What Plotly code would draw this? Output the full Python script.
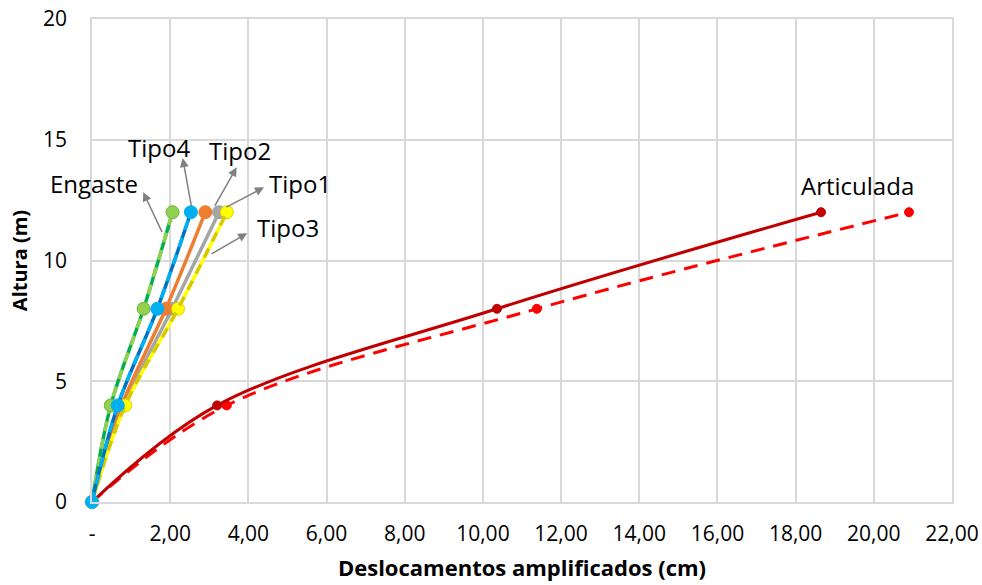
import plotly.graph_objects as go

altura = [0, 4, 8, 12]
engaste = [0, 0.48, 1.32, 2.06]
tipo4 = [0, 0.66, 1.67, 2.53]
tipo2 = [0, 0.76, 1.89, 2.90]
tipo1 = [0, 0.82, 2.05, 3.25]
tipo3 = [0, 0.85, 2.20, 3.45]
articulada = [0, 3.20, 10.36, 18.65]
articulada_b = [0, 3.45, 11.38, 20.90]

x_ticks = [0, 2, 4, 6, 8, 10, 12, 14, 16, 18, 20, 22]
x_ticktext = ["-", "2,00", "4,00", "6,00", "8,00", "10,00", "12,00", "14,00", "16,00", "18,00", "20,00", "22,00"]
y_ticks = [0, 5, 10, 15, 20]

FONT = "Open Sans"

fig = go.Figure()

def add(x, color, width=3.5, dash="solid", msize=13, mcolor=None, mline=None, show_marker=True):
    fig.add_trace(go.Scatter(
        x=x, y=altura, mode="lines+markers" if show_marker else "lines",
        line=dict(color=color, width=width, dash=dash, shape="spline", smoothing=1.0),
        marker=dict(size=msize, color=mcolor or color,
                    line=dict(color=mline or mcolor or color, width=1)),
        cliponaxis=False, showlegend=False, hoverinfo="x+y"))

# Articulada
add(articulada_b, "#FF0000", width=3, dash="14px,9px", msize=9)
add(articulada, "#C00000", width=3, msize=9)
# Type lines
add(engaste, "#00B050", show_marker=False)
add(engaste, "#92D050", dash="10px,8px", mcolor="#92D050", mline="#70B040")
add(tipo1, "#A5A5A5")
add(tipo2, "#ED7D31")
add(tipo3, "#FFFF00", mcolor="#FFFF00", mline="#E0D000")
add(tipo3, "#D8C800", dash="10px,8px", show_marker=False)
add(tipo4, "#0070C0", show_marker=False)
add(tipo4, "#00B0F0", dash="10px,8px")

labels = [
    ("Engaste", 0.04, 13.18, 1.31, 12.83, 1.81, 11.11),
    ("Tipo4", 1.71, 14.68, 2.32, 14.24, 2.55, 12.18),
    ("Tipo2", 3.79, 14.55, 3.70, 13.86, 3.12, 12.20),
    ("Tipo1", 5.32, 13.18, 4.40, 13.03, 3.40, 12.18),
    ("Tipo3", 5.01, 11.38, 3.97, 11.13, 3.02, 10.24),
]
for txt, tx, ty, hx, hy, sx, sy in labels:
    fig.add_annotation(x=hx, y=hy, ax=sx, ay=sy, axref="x", ayref="y", xref="x", yref="y",
                       text="", showarrow=True, arrowhead=2, arrowsize=1.2, arrowwidth=1.5,
                       arrowcolor="#808080")
    fig.add_annotation(x=tx, y=ty, text=txt, showarrow=False,
                       font=dict(family=FONT, size=24, color="#000000"))
fig.add_annotation(x=19.57, y=13.1, text="Articulada", showarrow=False,
                   font=dict(family=FONT, size=24, color="#000000"))

fig.update_layout(
    width=982, height=585,
    margin=dict(l=92, r=30, t=19, b=83),
    plot_bgcolor="white", paper_bgcolor="white",
    font=dict(family=FONT, size=21, color="#000000"),
    xaxis=dict(range=[0, 22], tickvals=x_ticks, ticktext=x_ticktext,
               showgrid=True, gridcolor="#D9D9D9", gridwidth=1.5,
               zeroline=False, showline=True, linecolor="#D9D9D9", linewidth=1.5,
               mirror=True, ticks="", automargin=False, ticklabelstandoff=12,
               title=dict(text="<b>Deslocamentos amplificados (cm)</b>", font=dict(size=22), standoff=15),
               tickfont=dict(size=21)),
    yaxis=dict(range=[0, 20], tickvals=y_ticks,
               showgrid=True, gridcolor="#D9D9D9", gridwidth=1.5,
               zeroline=False, showline=True, linecolor="#D9D9D9", linewidth=1.5,
               mirror=True, ticks="", automargin=False, ticklabelstandoff=19,
               title=dict(text="<b>Altura (m)</b>", font=dict(size=20), standoff=10),
               tickfont=dict(size=21)),
)

fig.write_html("out.html", post_script="document.body.style.margin='0';",
               config={"displayModeBar": False})
